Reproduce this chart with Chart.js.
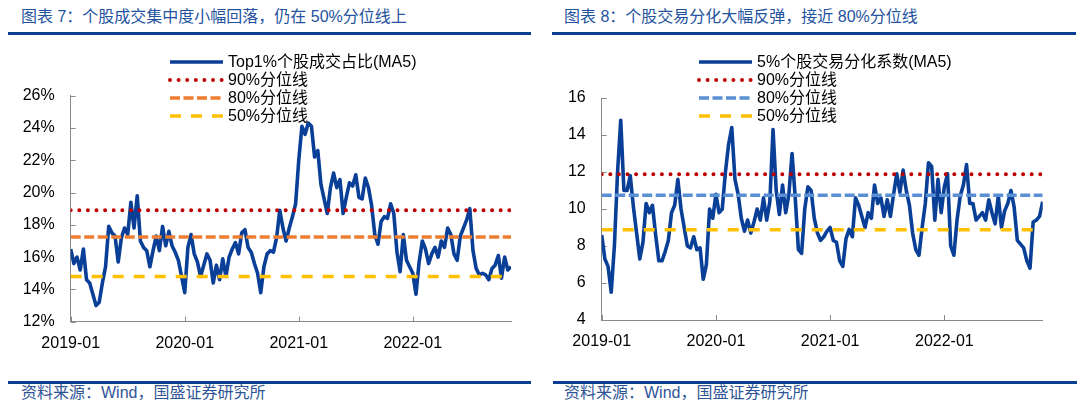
<!DOCTYPE html>
<html lang="zh-CN">
<head>
<meta charset="utf-8">
<script src="https://cdn.jsdelivr.net/npm/chart.js@4.4.1/dist/chart.umd.min.js"></script>
<style>
  html, body { margin: 0; padding: 0; background: #fff; }
  body {
    width: 1080px; height: 409px; position: relative; overflow: hidden;
    font-family: "Liberation Sans", "Noto Sans CJK SC", sans-serif;
  }
  .title  { position: absolute; top: 7px; font-size: 16px; line-height: 20px; color: #24539e; white-space: nowrap; }
  .rule   { position: absolute; height: 3px; background: #0b3f94; }
  .source { position: absolute; top: 383px; font-size: 16px; line-height: 20px; color: #2f5597; white-space: nowrap; }
  canvas  { position: absolute; top: 40px; }
</style>
</head>
<body>

<div class="title" style="left:21px">图表 7：个股成交集中度小幅回落，仍在 50%分位线上</div>
<div class="rule" style="left:8px; width:523px; top:32px"></div>
<div class="title" style="left:564px">图表 8：个股交易分化大幅反弹，接近 80%分位线</div>
<div class="rule" style="left:552px; width:524px; top:32px"></div>

<canvas id="shareChart" width="540" height="330" style="left:0"></canvas>
<canvas id="divergeChart" width="540" height="330" style="left:540px"></canvas>

<div class="rule" style="left:8px; width:523px; top:381px"></div>
<div class="source" style="left:21px">资料来源：Wind，国盛证券研究所</div>
<div class="rule" style="left:553px; width:524px; top:381px"></div>
<div class="source" style="left:564px">资料来源：Wind，国盛证券研究所</div>

<script>
/* 数据：2019-01 起，每 1/3 个月一个读数（MA5） */

// 横轴刻度（距 2019-01 的月数）及其标签
const X_TICK_MONTHS = [0, 12, 24, 36];
const X_TICK_LABELS = ['2019-01', '2020-01', '2021-01', '2022-01'];
const POINTS_PER_MONTH = 3;

// 图表 7：Top1% 个股成交占比（%）
const TOP1_SHARE = [
  16.5,15.6,16.0,15.2,16.5,14.6,14.4,13.7,13.0,13.2,
  14.4,15.4,17.9,17.5,17.3,15.7,17.2,17.8,17.4,19.4,
  17.8,19.8,17.0,16.6,16.4,15.4,16.4,17.3,16.4,17.9,
  16.7,17.6,16.7,16.3,15.8,14.8,13.8,16.6,17.4,16.2,
  15.7,14.8,15.5,16.2,15.8,14.4,15.5,14.6,15.9,14.8,
  16.0,16.5,16.9,16.2,17.5,17.7,16.6,16.3,15.6,15.0,
  13.8,15.4,16.2,16.4,16.3,17.2,18.9,17.8,17.0,17.8,
  18.5,19.3,22.0,24.1,23.6,24.3,24.1,22.2,22.6,20.5,
  19.6,18.7,20.3,21.2,20.3,20.8,18.7,19.7,20.6,20.4,
  21.1,19.7,19.6,20.9,20.3,19.2,17.4,16.8,18.2,18.5,
  18.4,19.3,18.7,16.3,15.1,17.4,15.8,15.4,15.0,13.7,
  15.7,17.0,16.5,15.6,16.2,16.6,16.0,17.0,16.6,17.8,
  17.4,16.2,15.8,17.3,17.8,18.3,19.0,16.4,15.3,14.9,
  15.0,14.9,14.6,15.3,15.5,16.1,14.7,16.0,15.2,15.4,
];
const SHARE_LEVELS = [18.9, 17.25, 14.8];      // 90% / 80% / 50% 分位

// 图表 8：5% 个股交易分化系数
const DIVERGENCE = [
  8.6,7.3,6.9,5.5,8.0,12.0,14.8,11.0,11.0,11.8,
  10.1,8.7,7.3,8.2,10.3,9.8,10.2,8.6,7.2,7.2,
  7.7,8.3,9.8,10.2,11.6,10.0,9.0,8.0,7.9,8.5,
  7.8,7.9,6.2,7.0,10.0,9.5,10.8,9.8,10.0,12.0,
  13.5,14.4,11.6,10.8,9.5,8.8,9.4,8.7,9.3,10.0,
  9.4,10.6,9.4,10.4,14.3,11.0,9.7,11.3,9.8,10.8,
  13.0,10.6,7.8,7.6,10.0,11.2,11.0,9.5,8.7,8.3,
  8.5,8.8,9.0,8.3,8.2,7.2,6.9,8.4,8.9,8.5,
  10.6,10.2,9.6,9.0,9.8,9.5,11.3,10.3,10.6,9.6,
  10.5,9.6,10.8,11.9,10.9,12.1,11.0,10.2,8.7,7.8,
  7.5,9.0,10.3,12.5,12.3,9.4,11.6,9.8,11.2,11.9,
  8.0,7.5,9.4,10.7,11.3,12.4,10.3,10.3,9.4,9.6,
  9.8,9.4,10.5,9.8,9.2,10.7,9.0,9.9,10.3,11.0,
  10.1,8.3,8.1,7.9,7.2,6.8,9.3,9.4,9.6,10.4,
];
const DIVERGE_LEVELS = [11.88, 10.74, 8.88];

const LEVEL_NAMES = ['90%分位线', '80%分位线', '50%分位线'];


/* 颜色 */
const COLORS = {
  series: '#0a3f97',
  p90:    '#c00000',
  orange: '#ed7d31',
  blue:   '#5b8fd3',
  yellow: '#ffc000',
  axis:   '#8a8a8a',
  text:   '#000000',
};
const FONT_FAMILY = "'Liberation Sans', 'Noto Sans CJK SC', sans-serif";


/* 插件：刻度线朝内（与原图一致） */
const innerTicks = {
  id: 'innerTicks',
  beforeDatasetsDraw(chart) {
    const { ctx, chartArea: a, scales: { x, y } } = chart;
    ctx.save();
    ctx.strokeStyle = COLORS.axis;
    ctx.lineWidth = 1;
    ctx.beginPath();
    y.ticks.forEach(t => {
      const py = Math.round(y.getPixelForValue(t.value)) + 0.5;
      ctx.moveTo(a.left, py);
      ctx.lineTo(a.left + 5, py);
    });
    x.ticks.forEach(t => {
      const px = Math.round(x.getPixelForValue(t.value)) + 0.5;
      ctx.moveTo(px, a.bottom);
      ctx.lineTo(px, a.bottom - 5);
    });
    ctx.stroke();
    ctx.restore();
  },
};

/* 插件：竖排图例，线样取自数据集本身的样式 */
const lineLegend = {
  id: 'lineLegend',
  afterDraw(chart, args, opts) {
    const ctx = chart.ctx;
    ctx.save();
    chart.data.datasets.forEach((ds, i) => {
      const y = opts.y + i * opts.rowHeight;
      ctx.beginPath();
      ctx.strokeStyle = ds.borderColor;
      ctx.lineWidth = ds.borderWidth;
      ctx.lineCap = ds.borderCapStyle || 'butt';
      ctx.setLineDash(ds.borderDash || []);
      ctx.moveTo(opts.x, y);
      ctx.lineTo(opts.x + opts.sampleWidth, y);
      ctx.stroke();
      ctx.setLineDash([]);
      ctx.fillStyle = COLORS.text;
      ctx.font = `16px ${FONT_FAMILY}`;
      ctx.textBaseline = 'middle';
      ctx.fillText(ds.label, opts.x + opts.sampleWidth + 5, y + 1);
    });
    ctx.restore();
  },
};


/* 构建一张图 */
function toPoints(values) {
  return values.map((v, i) => ({ x: i / POINTS_PER_MONTH, y: v }));
}

function levelLine(label, value, xMax, style) {
  return Object.assign({
    label,
    data: [{ x: 0, y: value }, { x: xMax, y: value }],
    pointRadius: 0,
    fill: false,
    order: 0,               // 分位线画在序列之上
  }, style);
}

function makeChart(id, cfg) {
  const xMax = (cfg.values.length - 1) / POINTS_PER_MONTH;
  const styles = [
    { borderColor: COLORS.p90, borderWidth: 4, borderDash: [0, 8.6], borderCapStyle: 'round' },
    { borderColor: cfg.p80Color, borderWidth: 3.5, borderDash: [10, 3.5] },
    { borderColor: COLORS.yellow, borderWidth: 3.5, borderDash: [11, 10] },
  ];

  new Chart(document.getElementById(id), {
    type: 'line',
    data: {
      datasets: [
        {
          label: cfg.label,
          data: toPoints(cfg.values),
          borderColor: COLORS.series,
          borderWidth: 3.6,
          borderJoinStyle: 'round',
          pointRadius: 0,
          tension: 0,
          order: 1,
        },
        ...cfg.levels.map((v, i) => levelLine(LEVEL_NAMES[i], v, xMax, styles[i])),
      ],
    },
    options: {
      responsive: false,
      animation: false,
      layout: { padding: { left: 0, right: cfg.padRight, top: cfg.padTop, bottom: 0 } },
      plugins: {
        legend: { display: false },
        tooltip: { enabled: false },
        lineLegend: cfg.legend,
      },
      scales: {
        x: {
          type: 'linear',
          min: 0,
          max: xMax,
          afterFit: (s) => { s.height = cfg.xHeight; },
          afterBuildTicks: (s) => { s.ticks = X_TICK_MONTHS.map(v => ({ value: v })); },
          grid: { display: false, drawTicks: false },
          border: { color: COLORS.axis, width: 1 },
          ticks: {
            autoSkip: false,
            maxRotation: 0,
            padding: 12,
            color: COLORS.text,
            font: { family: FONT_FAMILY, size: 16 },
            callback: (v) => X_TICK_LABELS[X_TICK_MONTHS.indexOf(v)],
          },
        },
        y: {
          min: cfg.yMin,
          max: cfg.yMax,
          afterFit: (s) => { s.width = cfg.yWidth; },
          grid: { display: false, drawTicks: false },
          border: { color: COLORS.axis, width: 1 },
          ticks: {
            stepSize: 2,
            padding: 16,
            color: COLORS.text,
            font: { family: FONT_FAMILY, size: 16 },
            callback: cfg.yFormat,
          },
        },
      },
    },
    plugins: [innerTicks, lineLegend],
  });
}

// 图表 7
makeChart('shareChart', {
  label: 'Top1%个股成交占比(MA5)',
  values: TOP1_SHARE,
  levels: SHARE_LEVELS,
  p80Color: COLORS.orange,
  yMin: 12, yMax: 26,
  yFormat: (v) => v + '%',
  yWidth: 70.7, padTop: 55.6, padRight: 29, xHeight: 48.3,
  legend: { x: 170, y: 22, rowHeight: 18, sampleWidth: 53 },
});

// 图表 8
makeChart('divergeChart', {
  label: '5%个股交易分化系数(MA5)',
  values: DIVERGENCE,
  levels: DIVERGE_LEVELS,
  p80Color: COLORS.blue,
  yMin: 4, yMax: 16,
  yFormat: (v) => v,
  yWidth: 61.7, padTop: 58, padRight: 37.3, xHeight: 50,
  legend: { x: 159, y: 22, rowHeight: 18, sampleWidth: 53 },
});
</script>
</body>
</html>
